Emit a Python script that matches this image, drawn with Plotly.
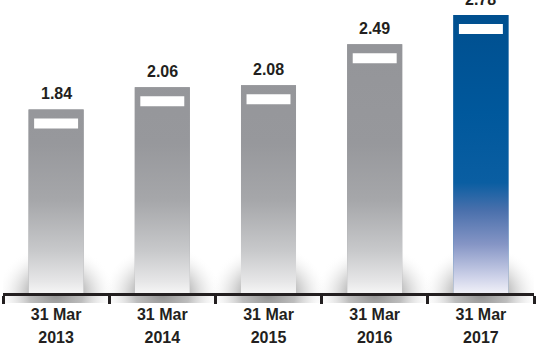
import numpy as np
import plotly.graph_objects as go

# Figures as at each reporting date
day_labels = ["31 Mar", "31 Mar", "31 Mar", "31 Mar", "31 Mar"]
year_labels = ["2013", "2014", "2015", "2016", "2017"]
values = [1.84, 2.06, 2.08, 2.49, 2.78]
value_labels = ["1.84", "2.06", "2.08", "2.49", "2.78"]
highlight = [False, False, False, False, True]

positions = list(range(len(values)))
boundaries = [p - 0.5 for p in positions] + [positions[-1] + 0.5]

INK = "#231f20"
FONT = "Arial, Liberation Sans, sans-serif"
BAR_W = 0.518
GRAY_TOP = "#939498"
BLUE_TOP = "#00529a"

GRAY_SCALE = [
    [0.0, "#f7f7f7"], [0.047, "#e6e6e7"], [0.155, "#c8c9cb"],
    [0.335, "#a6a7aa"], [0.54, "#97989c"], [1.0, "#939498"],
]
BLUE_SCALE = [
    [0.0, "#f3f3f9"], [0.058, "#d0d4ea"], [0.18, "#8595c5"],
    [0.30, "#4a70ac"], [0.40, "#0a5ea2"], [0.65, "#00589c"], [1.0, "#004f8f"],
]
GLOW_SCALE = [
    [0.0, "rgba(110,110,110,0.75)"], [0.45, "rgba(135,135,135,0.55)"],
    [0.75, "rgba(190,190,190,0.22)"], [1.0, "rgba(255,255,255,0)"],
]

Y_MAX = 2.929
Y_MIN = -0.085
axis_pos = -Y_MIN / (Y_MAX - Y_MIN)
grad_top = max(values)

fig = go.Figure()

# base bars
fig.add_trace(go.Bar(
    x=positions, y=values, width=BAR_W,
    marker=dict(color=[BLUE_TOP if h else GRAY_TOP for h in highlight], line=dict(width=0)),
    hoverinfo="skip", showlegend=False,
))

# soft shadow around the foot of each bar
t = np.linspace(0, 2 * np.pi, 73)
for p in positions:
    fig.add_trace(go.Scatter(
        x=p + 0.56 * np.cos(t), y=0.5 * np.sin(t),
        mode="none", fill="toself",
        fillgradient=dict(type="radial", colorscale=GLOW_SCALE),
        hoverinfo="skip", showlegend=False,
    ))

# vertical fade on every bar, from its own height down to the baseline
for p, v, h in zip(positions, values, highlight):
    x0, x1 = p - BAR_W / 2, p + BAR_W / 2
    fig.add_trace(go.Scatter(
        x=[x0, x1, x1, x0, x0], y=[0, 0, v, v, 0],
        mode="none", fill="toself",
        fillgradient=dict(type="vertical", colorscale=BLUE_SCALE if h else GRAY_SCALE,
                          start=0, stop=grad_top),
        hoverinfo="skip", showlegend=False,
    ))

# white tab near the top of each bar and the value above it
for p, v, lab in zip(positions, values, value_labels):
    fig.add_shape(
        type="rect", xref="x", yref="y", ysizemode="pixel", yanchor=v,
        x0=p - 0.207, x1=p + 0.207, y0=-9, y1=-19,
        fillcolor="white", line=dict(width=0), layer="above",
    )
    fig.add_annotation(
        x=p, y=v, xref="x", yref="y", text=lab, showarrow=False,
        yanchor="bottom", yshift=5,
        font=dict(family=FONT, size=16, color=INK, weight="bold"),
    )

tick_font = dict(family=FONT, size=16, color=INK, weight="bold")

fig.update_layout(
    width=536, height=354,
    margin=dict(l=3, r=2, t=0, b=51),
    paper_bgcolor="white", plot_bgcolor="white",
    showlegend=False,
    xaxis=dict(
        range=[-0.5, len(values) - 0.5], anchor="free", position=axis_pos,
        tickmode="array", tickvals=positions, ticktext=day_labels,
        ticks="", showline=False, showgrid=False, zeroline=False,
        tickfont=tick_font, ticklabelstandoff=9,
    ),
    xaxis2=dict(
        overlaying="x", matches="x", anchor="free", position=axis_pos,
        tickmode="array", tickvals=positions, ticktext=year_labels,
        ticks="", showline=False, showgrid=False, zeroline=False,
        tickfont=tick_font, ticklabelstandoff=32,
    ),
    xaxis3=dict(
        overlaying="x", matches="x", anchor="free", position=axis_pos,
        tickmode="array", tickvals=boundaries, showticklabels=False,
        ticks="outside", ticklen=8, tickwidth=2.5, tickcolor=INK,
        showline=True, linewidth=2.5, linecolor=INK,
        showgrid=False, zeroline=False,
    ),
    yaxis=dict(range=[Y_MIN, Y_MAX], visible=False, showgrid=False, zeroline=False),
)

# invisible anchors so the overlay axes are drawn
for ax in ("x2", "x3"):
    fig.add_trace(go.Scatter(x=[positions[0]], y=[0], xaxis=ax, yaxis="y",
                             mode="markers", marker=dict(opacity=0),
                             hoverinfo="skip", showlegend=False))

fig.write_html("out.html")
